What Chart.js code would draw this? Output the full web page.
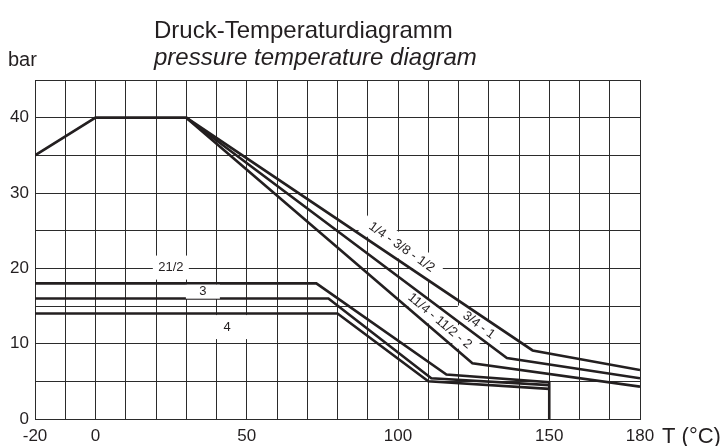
<!DOCTYPE html>
<html lang="de">
<head>
<meta charset="UTF-8">
<script src="https://cdn.jsdelivr.net/npm/chart.js@4.4.1/dist/chart.umd.min.js"></script>
<title>Druck-Temperaturdiagramm</title>
<style>
    html, body { margin: 0; padding: 0; background: #fff; }
    .box_chart { width: 724px; height: 446px; }
</style>
</head>
<body>
<div class="box_chart">
    <canvas id="chartPT"></canvas>
</div>
<script>
    /* Kurven: Temperatur (°C) und Druck (bar) */
    var tempA = [-20, 0, 30, 144.5, 180];      // 1/4 - 3/8 - 1/2
    var presA = [35, 40, 40, 9.1, 6.5];
    var tempB = [30, 136, 180];                // 3/4 - 1
    var presB = [40, 8.1, 5.4];
    var tempC = [30, 124.6, 180];              // 11/4 - 11/2 - 2
    var presC = [40, 7.4, 4.3];
    var tempD = [-20, 73, 116, 150, 150];      // 21/2
    var presD = [18, 18, 5.9, 4.9, 0];
    var tempE = [-20, 77, 111, 150];           // 3
    var presE = [16, 16, 5.4, 4.5];
    var tempF = [-20, 80, 110, 150];           // 4
    var presF = [14, 14, 5.0, 4.0];

    var xTickLabels = [-20, 0, 50, 100, 150, 180];
    var yTickLabels = [0, 10, 20, 30, 40];
    var curveNames = ['1/4 - 3/8 - 1/2', '3/4 - 1', '11/4 - 11/2 - 2', '21/2', '3', '4'];

    var FONT = '"Liberation Sans", Arial, sans-serif';
    var INK = '#231f20';

    function punkte(t, p) {
        var out = [];
        for (var i = 0; i < t.length; i++) out.push({ x: t[i], y: p[i] });
        return out;
    }

    function kurve(name, t, p) {
        return {
            label: name,
            data: punkte(t, p),
            showLine: true,
            borderColor: INK,
            borderWidth: 2.6,
            pointRadius: 0,
            tension: 0,
            fill: false
        };
    }

    /* Beschriftung der Kurven (Lage in Datenwerten) */
    var kurvenText = [
        { text: curveNames[0], t: 101.2, p: 22.8, rot: 35, w: 92, h: 22 },
        { text: curveNames[1], t: 126.7, p: 12.45, rot: 37, w: 56, h: 18 },
        { text: curveNames[2], t: 113.8, p: 13.0, rot: 40, w: 90, h: 18 },
        { text: curveNames[3], t: 24.9, p: 20.1, rot: 0, w: 36, h: 24 },
        { text: curveNames[4], t: 35.5, p: 16.9, rot: 0, w: 34, h: 14, top: true },
        { text: curveNames[5], t: 43.5, p: 12.2, rot: 0, w: 40, h: 24 }
    ];

    function kasten(chart, item) {
        var ctx = chart.ctx;
        var x = chart.scales.x.getPixelForValue(item.t);
        var y = chart.scales.y.getPixelForValue(item.p);
        ctx.save();
        ctx.translate(x, y);
        ctx.rotate(item.rot * Math.PI / 180);
        ctx.fillStyle = '#fff';
        ctx.fillRect(-item.w / 2, -item.h / 2, item.w, item.h);
        ctx.restore();
    }

    var beschriftung = {
        id: 'beschriftung',
        beforeDatasetsDraw: function (chart) {
            kurvenText.forEach(function (item) {
                if (!item.top) kasten(chart, item);
            });
        },
        afterDatasetsDraw: function (chart) {
            var ctx = chart.ctx;
            kurvenText.forEach(function (item) {
                if (item.top) kasten(chart, item);
                var x = chart.scales.x.getPixelForValue(item.t);
                var y = chart.scales.y.getPixelForValue(item.p);
                ctx.save();
                ctx.translate(x, y);
                ctx.rotate(item.rot * Math.PI / 180);
                ctx.font = '13px ' + FONT;
                ctx.fillStyle = INK;
                ctx.textAlign = 'center';
                ctx.textBaseline = 'middle';
                ctx.fillText(item.text, 0, 0);
                ctx.restore();
            });
        },
        afterDraw: function (chart) {
            var ctx = chart.ctx;
            ctx.save();
            ctx.fillStyle = INK;
            ctx.textBaseline = 'alphabetic';
            ctx.textAlign = 'left';
            ctx.font = '24px ' + FONT;
            ctx.fillText('Druck-Temperaturdiagramm', 154, 38);
            ctx.font = 'italic 24px ' + FONT;
            ctx.fillText('pressure temperature diagram', 154, 65);
            ctx.font = '20px ' + FONT;
            ctx.fillText('bar', 8, 66);
            ctx.font = '22px ' + FONT;
            ctx.fillText('T (°C)', 662, 443);
            ctx.restore();
        }
    };

    var ctx1 = chartPT.getContext('2d');
    var myChart = new Chart(ctx1, {
        type: 'scatter',
        data: {
            datasets: [
                kurve(curveNames[0], tempA, presA),
                kurve(curveNames[1], tempB, presB),
                kurve(curveNames[2], tempC, presC),
                kurve(curveNames[3], tempD, presD),
                kurve(curveNames[4], tempE, presE),
                kurve(curveNames[5], tempF, presF)
            ]
        },
        options: {
            responsive: true,
            maintainAspectRatio: false,
            animation: false,
            layout: { padding: { top: 80, right: 84, left: 0, bottom: 0 } },
            plugins: {
                legend: { display: false },
                tooltip: { enabled: false }
            },
            scales: {
                x: {
                    type: 'linear',
                    min: -20,
                    max: 180,
                    afterFit: function (s) { s.height = 27; },
                    ticks: {
                        stepSize: 10,
                        autoSkip: false,
                        maxRotation: 0,
                        padding: 7,
                        color: INK,
                        font: { family: FONT, size: 17 },
                        callback: function (v) { return xTickLabels.indexOf(v) >= 0 ? String(v) : ''; }
                    },
                    grid: { color: '#2b2b2b', lineWidth: 1, drawTicks: false },
                    border: { color: '#2b2b2b', width: 1 }
                },
                y: {
                    min: 0,
                    max: 45,
                    afterFit: function (s) { s.width = 35; },
                    ticks: {
                        stepSize: 5,
                        autoSkip: false,
                        padding: 6,
                        color: INK,
                        font: { family: FONT, size: 17 },
                        callback: function (v) { return yTickLabels.indexOf(v) >= 0 ? String(v) : ''; }
                    },
                    grid: { color: '#2b2b2b', lineWidth: 1, drawTicks: false },
                    border: { color: '#2b2b2b', width: 1 }
                }
            }
        },
        plugins: [beschriftung]
    });
</script>
</body>
</html>
